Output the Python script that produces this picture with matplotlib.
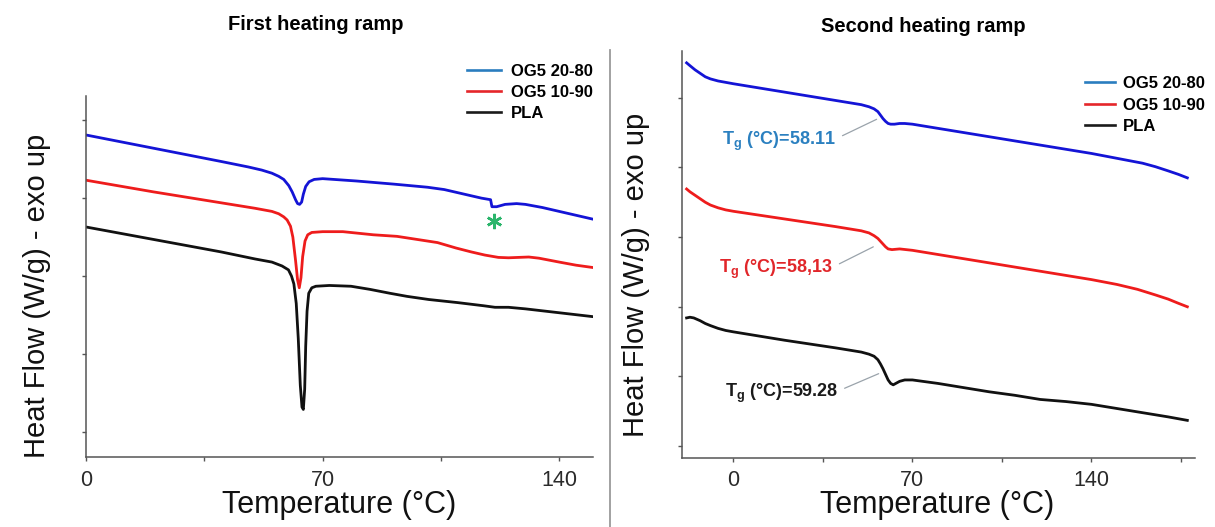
import matplotlib
matplotlib.use("Agg")
import matplotlib.pyplot as plt
from matplotlib.lines import Line2D
from matplotlib.ticker import MultipleLocator

plt.rcParams['font.family'] = ['Liberation Sans', 'DejaVu Sans']
# subscript g of the Tg labels in bold Arial-like font
plt.rcParams['mathtext.fontset'] = 'custom'
plt.rcParams['mathtext.rm'] = 'Liberation Sans:bold'
plt.rcParams['mathtext.it'] = 'Liberation Sans:bold'
plt.rcParams['mathtext.bf'] = 'Liberation Sans:bold'

series_names = ['OG5 20-80', 'OG5 10-90', 'PLA']

# ---- first heating ramp (heat flow, arbitrary offset units) ----
t1_blue = [0, 20, 40, 48, 52, 55, 57, 58.5, 60, 61, 62, 62.6, 63.2, 63.8, 64.3, 65, 66, 67.5,
           70, 80, 91, 101, 106, 110, 114, 117, 119.7, 120.1, 121.5, 124, 127.4, 130, 135,
           140, 145, 150]
hf1_blue = [3.81, 3.64, 3.47, 3.40, 3.36, 3.32, 3.28, 3.24, 3.16, 3.08, 2.98, 2.93, 2.92, 2.95,
            3.05, 3.15, 3.21, 3.24, 3.25, 3.22, 3.18, 3.14, 3.11, 3.07, 3.03, 3.00, 2.98, 2.89,
            2.89, 2.92, 2.93, 2.92, 2.88, 2.83, 2.78, 2.73]

t1_red = [0, 20, 40, 50, 55, 57, 58.5, 59.5, 60.5, 61.2, 62, 62.6, 63.1, 63.6, 64.1, 64.8, 65.6,
          66.8, 70, 76, 85, 92, 98, 104, 109.5, 114, 118, 122, 125, 128, 131, 134, 140, 145,
          150]
hf1_red = [3.23, 3.08, 2.94, 2.87, 2.83, 2.80, 2.76, 2.72, 2.64, 2.50, 2.20, 1.95, 1.85, 1.98,
           2.25, 2.45, 2.53, 2.56, 2.57, 2.57, 2.53, 2.51, 2.47, 2.43, 2.36, 2.31, 2.27, 2.24,
           2.235, 2.24, 2.245, 2.23, 2.18, 2.14, 2.11]

t1_pla = [0, 20, 40, 50, 55, 58, 59.9, 60.8, 61.5, 62.2, 62.8, 63.4, 63.9, 64.3, 64.7, 65.0,
          65.4, 65.9, 66.8, 68, 72, 78.4, 84, 89.9, 95, 101.4, 110, 117.6, 121, 125, 130, 140,
          150]
hf1_pla = [2.63, 2.47, 2.31, 2.22, 2.18, 2.13, 2.08, 2.00, 1.90, 1.65, 1.20, 0.60, 0.32, 0.29,
           0.55, 1.10, 1.55, 1.78, 1.85, 1.87, 1.88, 1.87, 1.83, 1.78, 1.74, 1.70, 1.66, 1.62,
           1.60, 1.60, 1.58, 1.53, 1.48]

# ---- second heating ramp ----
t2_blue = [-18.3, -17, -15, -13, -11, -9, -6, -3, 0, 20, 40, 50, 53, 55, 56.5, 57.5, 58.5,
           59.5, 60.5, 61.5, 63, 65, 67, 70, 80, 90, 100, 110, 120, 130, 140, 150, 160, 165,
           170, 174, 177.5]
hf2_blue = [5.50, 5.46, 5.40, 5.35, 5.30, 5.27, 5.24, 5.22, 5.20, 5.08, 4.96, 4.90, 4.87, 4.84,
            4.80, 4.75, 4.70, 4.66, 4.63, 4.62, 4.62, 4.63, 4.63, 4.62, 4.56, 4.50, 4.44, 4.38,
            4.32, 4.26, 4.20, 4.13, 4.06, 4.01, 3.95, 3.90, 3.85]

t2_red = [-18.3, -17, -15, -13, -11, -9, -6, -3, 0, 20, 40, 50, 53, 55, 56.5, 57.5, 58.5, 59.5,
          60.5, 62, 65, 70, 80, 90, 100, 110, 120, 130, 140, 150, 158, 165, 170, 174, 177.5]
hf2_red = [3.69, 3.65, 3.60, 3.55, 3.50, 3.46, 3.42, 3.39, 3.37, 3.26, 3.15, 3.09, 3.06, 3.02,
           2.98, 2.94, 2.90, 2.86, 2.83, 2.82, 2.83, 2.81, 2.75, 2.69, 2.63, 2.57, 2.51, 2.45,
           2.39, 2.32, 2.25, 2.17, 2.11, 2.05, 2.00]

t2_pla = [-18.3, -17, -15.5, -13, -11, -9, -6, -3, 0, 20, 40, 50, 53, 55, 56.5, 57.5, 58.5,
          59.5, 60.5, 61.5, 62.5, 63.5, 65, 67, 70, 80, 90, 100, 110, 120, 130, 140, 150, 160,
          170, 177.5]
hf2_pla = [1.84, 1.85, 1.84, 1.80, 1.76, 1.73, 1.69, 1.66, 1.64, 1.52, 1.41, 1.35, 1.32, 1.29,
           1.24, 1.18, 1.11, 1.03, 0.95, 0.90, 0.88, 0.90, 0.93, 0.95, 0.95, 0.90, 0.84, 0.78,
           0.73, 0.67, 0.64, 0.60, 0.54, 0.48, 0.42, 0.37]

# glass transition labels on the second ramp
tg_labels = [r'T$_g$ (°C)=58.11', r'T$_g$ (°C)=58,13', r'T$_g$ (°C)=59.28']
tg_point_t = [56.0, 54.7, 56.8]
tg_point_hf = [4.69, 2.86, 1.04]
tg_text_t = [40.1, 38.9, 40.9]
tg_text_hf = [4.37, 2.53, 0.75]

# asterisk on the first ramp (blue curve event)
star_t = 120.7
star_hf = 2.71

curve_colors = ['#1414d6', '#ee1c1c', '#111111']
legend_colors = ['#2a7dbf', '#e5262a', '#1a1a1a']
tg_colors = ['#2b80c0', '#e1262a', '#1a1a1a']

fig = plt.figure(figsize=(12.15, 5.27), dpi=100)
W, H = 1215, 527


def px_axes(l, t, r, b):
    return fig.add_axes([l / W, 1 - b / H, (r - l) / W, (b - t) / H])


ax1 = px_axes(86, 96, 593, 457)
ax2 = px_axes(682, 51, 1195, 458)

for t, hf, c in zip([t1_blue, t1_red, t1_pla], [hf1_blue, hf1_red, hf1_pla], curve_colors):
    ax1.plot(t, hf, color=c, lw=2.0, solid_joinstyle='round')
for t, hf, c in zip([t2_blue, t2_red, t2_pla], [hf2_blue, hf2_red, hf2_pla], curve_colors):
    ax2.plot(t, hf, color=c, lw=2.0, solid_joinstyle='round')

ax1.set_xlim(0, 150)
ax1.set_ylim(-0.32, 4.31)
ax2.set_xlim(-20.1, 180.5)
ax2.set_ylim(-0.17, 5.67)

for ax in (ax1, ax2):
    ax.spines['top'].set_visible(False)
    ax.spines['right'].set_visible(False)
    for s in ('left', 'bottom'):
        ax.spines[s].set_color('#555555')
        ax.spines[s].set_linewidth(1.1)
    ax.xaxis.set_major_locator(MultipleLocator(70))
    ax.xaxis.set_minor_locator(MultipleLocator(35))
    ax.yaxis.set_major_locator(MultipleLocator(1))
    ax.set_yticklabels([])
    ax.tick_params(axis='both', which='both', direction='out', length=3, width=1.0,
                   color='#555555')
    ax.tick_params(axis='x', labelsize=15.5, labelcolor='#2a2a2a', pad=6)
    ax.set_xlabel('Temperature (°C)', fontsize=22, color='#111111')
    ax.set_ylabel('Heat Flow (W/g) - exo up', fontsize=21, color='#111111',
                  ha='center', va='center')
    ax.patch.set_alpha(0)

ax1.yaxis.set_label_coords(-0.097, 0.446)
ax1.xaxis.set_label_coords(0.5, -0.133)
ax2.yaxis.set_label_coords(-0.0897, 0.45)
ax2.xaxis.set_label_coords(0.497, -0.115)
ax1.xaxis.label.set_va('center')
ax2.xaxis.label.set_va('center')

handles = [Line2D([], [], color=c, lw=1.9) for c in legend_colors]
ax1.legend(handles, series_names, loc='upper left', bbox_to_anchor=(0.751, 1.089),
           frameon=False, borderpad=0, borderaxespad=0, handlelength=2.05,
           handletextpad=0.6, labelspacing=0.36, prop={'weight': 'bold', 'size': 12})
ax2.legend(handles, series_names, loc='upper left', bbox_to_anchor=(0.7856, 0.938),
           frameon=False, borderpad=0, borderaxespad=0, handlelength=1.8,
           handletextpad=0.5, labelspacing=0.39, prop={'weight': 'bold', 'size': 12})

for lab, pt, ph, tt, th, c in zip(tg_labels, tg_point_t, tg_point_hf, tg_text_t, tg_text_hf,
                                  tg_colors):
    ax2.annotate(lab, xy=(pt, ph), xytext=(tt, th), ha='right', va='center',
                 fontsize=13, fontweight='bold', color=c,
                 arrowprops=dict(arrowstyle='-', color='#9aa3ab', lw=0.9,
                                 relpos=(1.0, 0.62), shrinkA=3, shrinkB=0))

ax1.plot([star_t], [star_hf], marker=(6, 2, 0), markersize=11, mew=1.8,
         color='#2bb56b', linestyle='none')

fig.text(316 / W, 1 - 25 / H, 'First heating ramp', ha='center', va='center',
         fontsize=14.5, fontweight='bold')
fig.text(923 / W, 1 - 27 / H, 'Second heating ramp', ha='center', va='center',
         fontsize=14.5, fontweight='bold')

# vertical separator between the two panels
fig.add_artist(Line2D([610 / W, 610 / W], [0, 1 - 50 / H], transform=fig.transFigure,
                      color='#9a9a9a', lw=1.3))

fig.savefig('out.png', dpi=100)
